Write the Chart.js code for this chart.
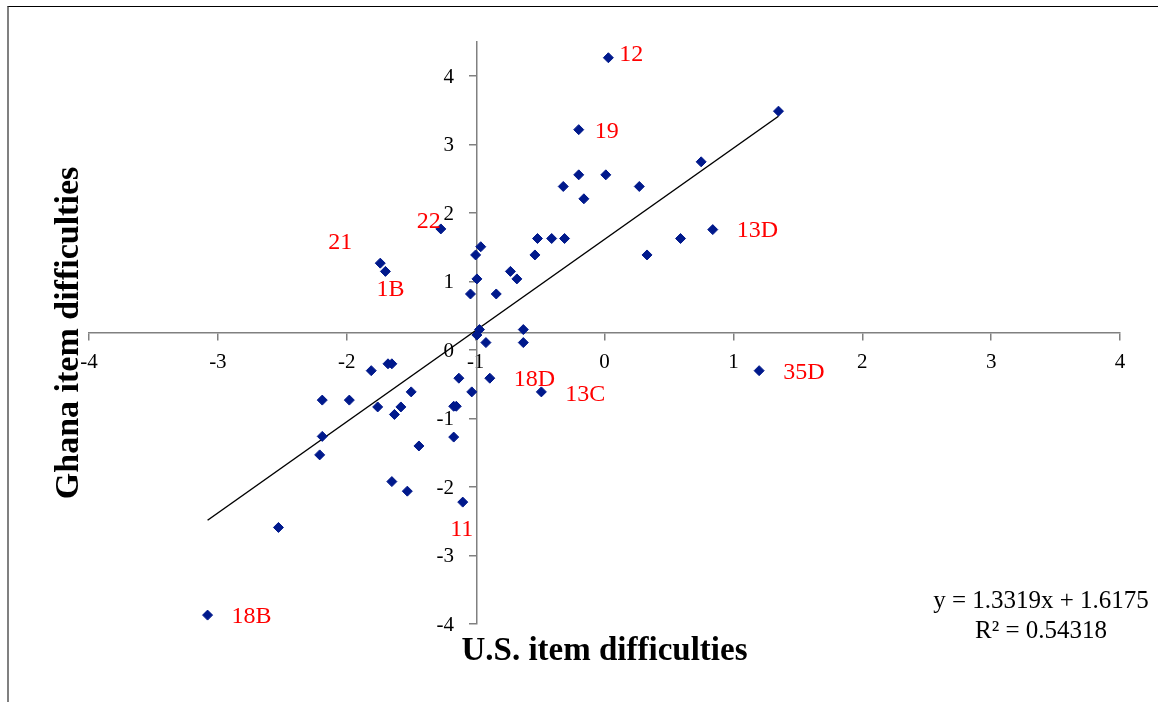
<!DOCTYPE html>
<html>
<head>
<meta charset="utf-8">
<script src="https://cdn.jsdelivr.net/npm/chart.js@4.4.1/dist/chart.umd.min.js"></script>
<style>
  html, body { margin: 0; padding: 0; background: #fff; }
  #wrap { position: relative; width: 1158px; height: 702px; }
  #grafico { position: absolute; left: 0; top: 0; }
  #marco { position: absolute; left: 7px; top: 6px; right: 0; bottom: 0;
           border-top: 1px solid #000; border-left: 2px solid #808080; pointer-events: none; }
</style>
</head>
<body>
<div id="wrap">
  <canvas id="grafico" width="1158" height="702"></canvas>
  <div id="marco"></div>
</div>
<script>
// dificultades de los items
const usItems = [0.03, 1.35, -0.20, 0.75, -0.20, 0.01, -0.32, 0.27, -0.16, -1.27,
  0.84, -0.52, -0.41, -0.31, 0.59, -0.96, -1.00, -0.54, 0.33, -0.73,
  -0.68, -0.99, -1.04, -0.84, -1.74, -1.70, -0.63, -0.97, -0.99, -0.92,
  -0.63, 1.20, -1.68, -1.65, -1.81, -1.13, -0.89, -1.50, -1.03, -0.49,
  -2.19, -1.98, -1.76, -1.58, -1.17, -1.15, -1.63, -1.17, -1.44, -2.19,
  -2.21, -1.65, -1.53, -1.10, -2.53, -3.08];
const ghanaItems = [4.27, 3.49, 3.22, 2.75, 2.56, 2.56, 2.39, 2.39, 2.21, 1.77,
  1.76, 1.63, 1.63, 1.63, 1.63, 1.51, 1.39, 1.39, 1.39, 1.15,
  1.04, 1.04, 0.82, 0.82, 1.27, 1.15, 0.30, 0.30, 0.22, 0.11,
  0.11, -0.30, -0.20, -0.20, -0.30, -0.41, -0.41, -0.61, -0.61, -0.61,
  -0.73, -0.73, -0.83, -0.83, -0.82, -0.82, -0.94, -1.27, -1.40, -1.26,
  -1.53, -1.92, -2.06, -2.22, -2.59, -3.87];
const itemNames = ['12', '', '19', '', '', '', '', '', '', '22',
  '13D', '', '', '', '', '', '', '', '', '',
  '', '', '', '', '21', '1B', '', '', '', '',
  '', '35D', '', '', '', '', '18D', '', '', '13C',
  '', '', '', '', '', '', '', '', '', '',
  '', '', '', '11', '', '18B'];
const xTicks = [-4, -3, -2, -1, 0, 1, 2, 3, 4];
const yTicks = [-4, -3, -2, -1, 0, 1, 2, 3, 4];

// linea de tendencia
const pendiente = 1.3319;
const intercepto = 1.6175;
const r2 = 0.54318;

const puntos = usItems.map((x, i) => ({x: x, y: ghanaItems[i]}));
const xMin = Math.min(...usItems);
const xMax = Math.max(...usItems);
const tendencia = [
  {x: xMin, y: pendiente * xMin + intercepto},
  {x: xMax, y: pendiente * xMax + intercepto}
];

// desplazamiento de cada rotulo respecto a su punto: [dx, dy, alineacion]
const posRotulo = {
  '12': [11, -3, 'left'], '19': [16, 2, 'left'], '22': [0, -7, 'right'],
  '21': [-28, -20, 'right'], '1B': [-9, 18, 'left'], '13D': [24, 1, 'left'],
  '35D': [24, 2, 'left'], '18D': [24, 2, 'left'], '13C': [24, 3, 'left'],
  '11': [-1, 28, 'center'], '18B': [24, 2, 'left']
};

const serif = '"Liberation Serif", "Times New Roman", serif';

const textos = {
  id: 'textos',
  afterDatasetsDraw(chart) {
    const ctx = chart.ctx;
    const area = chart.chartArea;
    const meta = chart.getDatasetMeta(0);
    const sx = chart.scales.x;
    const sy = chart.scales.y;
    ctx.save();
    ctx.textBaseline = 'middle';

    // etiquetas del eje vertical, a la izquierda del eje
    ctx.fillStyle = '#000';
    ctx.font = '21px ' + serif;
    ctx.textAlign = 'right';
    const ejeX = sx.getPixelForValue(-0.99);
    sy.ticks.forEach(t => {
      ctx.fillText(String(t.value), ejeX - 23, sy.getPixelForValue(t.value) + 1);
    });

    ctx.fillStyle = '#ff0000';
    ctx.font = '24px ' + serif;
    itemNames.forEach((n, i) => {
      if (!n) return;
      const p = meta.data[i];
      const o = posRotulo[n];
      ctx.textAlign = o[2];
      ctx.fillText(n, p.x + o[0], p.y + o[1]);
    });

    ctx.fillStyle = '#000';
    ctx.font = 'bold 33px ' + serif;
    ctx.textAlign = 'center';
    ctx.fillText('U.S. item difficulties', (area.left + area.right) / 2, area.bottom + 27);
    ctx.save();
    ctx.translate(area.left - 20, (area.top + area.bottom) / 2);
    ctx.rotate(-Math.PI / 2);
    ctx.font = 'bold 34px ' + serif;
    ctx.fillText('Ghana item difficulties', 0, 0);
    ctx.restore();

    ctx.font = '25px ' + serif;
    ctx.fillText('y = ' + pendiente + 'x + ' + intercepto, area.right - 79, area.bottom - 23);
    ctx.fillText('R\u00b2 = ' + r2, area.right - 79, area.bottom + 7);
    ctx.restore();
  }
};

const ctx = document.getElementById('grafico');

new Chart(ctx, {
  type: 'scatter',
  data: {
    datasets: [{
      label: 'Items',
      data: puntos,
      pointStyle: 'rectRot',
      pointRadius: 5,
      borderWidth: 1,
      backgroundColor: '#00198c',
      borderColor: '#00198c'
    }, {
      type: 'line',
      label: 'Tendencia',
      data: tendencia,
      borderColor: '#000',
      borderWidth: 1.5,
      pointRadius: 0,
      fill: false
    }]
  },
  options: {
    responsive: false,
    animation: false,
    devicePixelRatio: 1,
    events: [],
    layout: { padding: { left: 89, right: 38, top: 42, bottom: 78 } },
    plugins: { legend: { display: false }, tooltip: { enabled: false } },
    scales: {
      x: {
        type: 'linear',
        min: -4, max: 4,
        position: { y: 0.25 },
        afterBuildTicks: s => { s.ticks = xTicks.map(v => ({value: v})); },
        grid: { drawOnChartArea: false, drawTicks: true, tickLength: 7, color: '#808080', lineWidth: 1.5 },
        border: { color: '#808080', width: 1.5 },
        ticks: { color: '#000', padding: 10, font: { family: serif, size: 21 } }
      },
      y: {
        type: 'linear',
        min: -4, max: 4.5,
        position: { x: -0.99 },
        afterBuildTicks: s => { s.ticks = yTicks.map(v => ({value: v})); },
        grid: { drawOnChartArea: false, drawTicks: true, tickLength: 7, color: '#808080', lineWidth: 1.5 },
        border: { color: '#808080', width: 1.5 },
        ticks: { display: false }
      }
    }
  },
  plugins: [textos]
});
</script>
</body>
</html>
